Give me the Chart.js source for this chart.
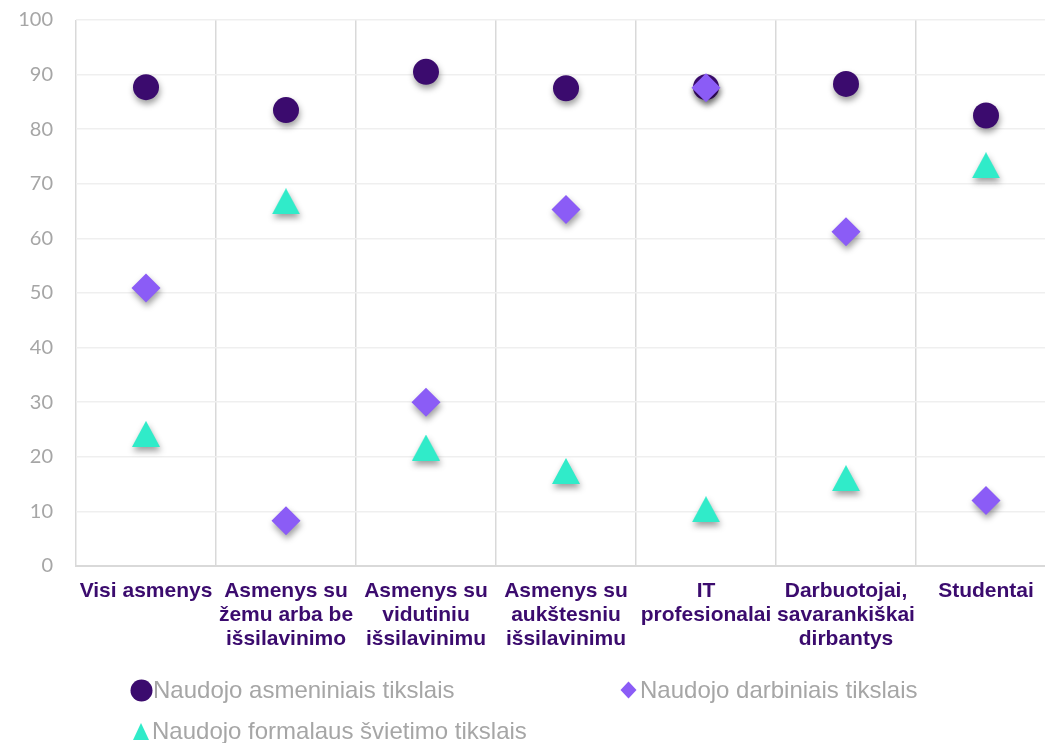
<!DOCTYPE html>
<html>
<head>
<meta charset="utf-8">
<script src="https://cdn.jsdelivr.net/npm/chart.js@4.4.1/dist/chart.umd.min.js"></script>
<style>
  html, body { margin: 0; padding: 0; background: #fff; overflow: hidden; }
  #wrap { position: relative; width: 1056px; height: 743px; }
  #legend { position: absolute; left: 0; top: 0; width: 1045px; height: 743px; pointer-events: none;
            font-family: "Liberation Sans", Arial, sans-serif; font-size: 24px; color: #a6a6a6; }
  .li { position: absolute; display: flex; align-items: center; white-space: nowrap; }
  .li svg { display: block; }
</style>
</head>
<body>
<div id="wrap">
  <canvas id="c"></canvas>
  <div id="legend"></div>
</div>
<script>
const categories = [
  ["Visi asmenys"],
  ["Asmenys su", "žemu arba be", "išsilavinimo"],
  ["Asmenys su", "vidutiniu", "išsilavinimu"],
  ["Asmenys su", "aukštesniu", "išsilavinimu"],
  ["IT", "profesionalai"],
  ["Darbuotojai,", "savarankiškai", "dirbantys"],
  ["Studentai"]
];
const seriesNames = [
  "Naudojo asmeniniais tikslais",
  "Naudojo darbiniais tikslais",
  "Naudojo formalaus švietimo tikslais"
];
const personal = [87.7, 83.5, 90.5, 87.5, 87.7, 88.3, 82.5];
const work = [50.9, 8.3, 30.0, 65.3, 87.6, 61.2, 12.0];
const education = [24.2, 66.8, 21.7, 17.4, 10.4, 16.1, 73.4];
const yTicks = [0, 10, 20, 30, 40, 50, 60, 70, 80, 90, 100];

const colPersonal = '#3b0b6e';
const colWork = '#8b5cf6';
const colEdu = '#30ebc9';

// triangle marker image (bounding box centred on the value)
function triangleImage(w, h, color) {
  const cv = document.createElement('canvas');
  cv.width = w; cv.height = h;
  const g = cv.getContext('2d');
  g.fillStyle = color;
  g.beginPath();
  g.moveTo(w / 2, 0);
  g.lineTo(w, h);
  g.lineTo(0, h);
  g.closePath();
  g.fill();
  return cv;
}
const triImg = triangleImage(28, 26, colEdu);

const shadowPlugin = {
  id: 'markerShadow',
  beforeDatasetsDraw(chart) {
    const ctx = chart.ctx;
    ctx.save();
    ctx.shadowColor = 'rgba(0,0,0,0.38)';
    ctx.shadowBlur = 6;
    ctx.shadowOffsetX = 1;
    ctx.shadowOffsetY = 4;
  },
  afterDatasetsDraw(chart) {
    chart.ctx.restore();
  }
};

new Chart(document.getElementById('c'), {
  type: 'line',
  data: {
    labels: categories,
    datasets: [
      { label: seriesNames[0], data: personal, showLine: false, order: 3,
        pointStyle: 'circle', pointRadius: 13, pointHoverRadius: 13,
        backgroundColor: colPersonal, borderColor: colPersonal, pointBorderWidth: 0 },
      { label: seriesNames[1], data: work, showLine: false, order: 1,
        pointStyle: 'rectRot', pointRadius: 14.5, pointHoverRadius: 14.5,
        backgroundColor: colWork, borderColor: colWork, pointBorderWidth: 0 },
      { label: seriesNames[2], data: education, showLine: false, order: 2,
        pointStyle: triImg, pointRadius: 14, pointHoverRadius: 14,
        backgroundColor: colEdu, borderColor: colEdu, pointBorderWidth: 0 }
    ]
  },
  options: {
    responsive: true,
    maintainAspectRatio: false,
    animation: false,
    layout: { autoPadding: false, padding: { top: 20, left: 0, right: 0, bottom: 0 } },
    plugins: { legend: { display: false }, tooltip: { enabled: false } },
    scales: {
      x: {
        type: 'category',
        offset: true,
        grid: { offset: true, color: '#d9d9d9', lineWidth: 1.5, drawTicks: false },
        border: { display: true, color: '#d9d9d9', width: 2 },
        ticks: {
          color: '#3b0b6e', padding: 13, maxRotation: 0, autoSkip: false,
          font: { family: '"Liberation Sans", Arial, sans-serif', size: 21, weight: 'bold', lineHeight: 1.15 }
        },
        afterFit(s) { s.height = 177; }
      },
      y: {
        min: 0, max: 100,
        afterBuildTicks(s) { s.ticks = yTicks.map(v => ({ value: v })); },
        grid: { color: '#efefef', lineWidth: 1.5, drawTicks: true, tickLength: 23, tickColor: 'rgba(0,0,0,0)' },
        border: { display: false },
        ticks: {
          color: '#a6a6a6', padding: 0,
          font: { family: 'Lato, "Liberation Sans", sans-serif', size: 20 }
        },
        afterFit(s) { s.width = 76; }
      }
    }
  },
  plugins: [shadowPlugin]
});

// HTML legend (Excel-style two-column layout)
const legend = document.getElementById('legend');
const markers = [
  `<svg width="23" height="23"><circle cx="11.5" cy="11.5" r="11" fill="${colPersonal}"/></svg>`,
  `<svg width="17" height="18"><polygon points="8.5,0.5 16.5,9 8.5,17.5 0.5,9" fill="${colWork}"/></svg>`,
  `<svg width="16" height="17"><polygon points="8,0 16,17 0,17" fill="${colEdu}"/></svg>`
];
const legendPos = [
  { left: 130, top: 675, gap: 0 },
  { left: 620, top: 675, gap: 3 },
  { left: 133, top: 716, gap: 3 }
];
seriesNames.forEach((name, i) => {
  const d = document.createElement('div');
  d.className = 'li';
  d.style.left = legendPos[i].left + 'px';
  d.style.top = legendPos[i].top + 'px';
  d.style.height = '30px';
  d.innerHTML = markers[i] + `<span style="margin-left:${legendPos[i].gap}px">${name}</span>`;
  legend.appendChild(d);
});
</script>
</body>
</html>
